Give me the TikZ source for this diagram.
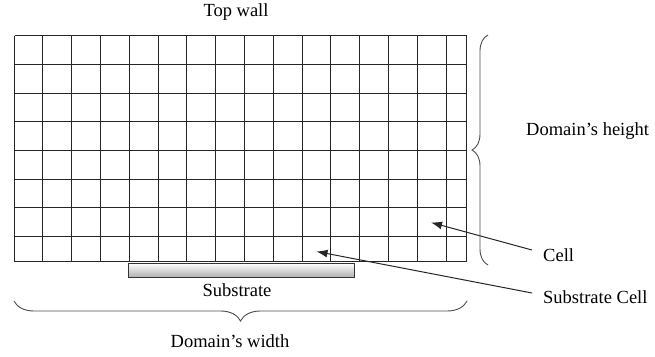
\documentclass[tikz,border=0pt]{standalone}
\usepackage{fontspec}
\setmainfont{Liberation Serif}
\usetikzlibrary{arrows.meta,decorations.pathreplacing}
\pgfdeclareverticalshading{subshade}{100bp}{
  color(0bp)=(black!45);
  color(35bp)=(black!25);
  color(75bp)=(white);
  color(90bp)=(black!15);
  color(100bp)=(black!60)}
\tikzset{
  lbl/.style={font=\fontsize{18.5}{22}\selectfont, inner sep=0pt},
  gridline/.style={draw=black!85, line width=1.2pt},
  bracel/.style={draw=black!70, line width=0.9pt, decorate, decoration={brace, raise=0pt}},
  pointer/.style={draw=black!85, line width=1pt, -{Latex[length=11pt,width=8pt]}},
}
\begin{document}
\begin{tikzpicture}[x=1pt,y=-1pt]
\useasboundingbox (0,0) rectangle (655,356);
% grid
\foreach \i in {0,...,15} {
  \pgfmathsetmacro{\xx}{int(14+28.8*\i)+0.5}
  \draw[gridline] (\xx,35.5) -- (\xx,261.5);
}
\draw[gridline] (466.5,35.5) -- (466.5,261.5);
\foreach \j in {0,...,7} {
  \pgfmathsetmacro{\yy}{int(35.7+28.7*\j)+0.5}
  \draw[gridline] (14.5,\yy) -- (466.5,\yy);
}
\draw[gridline] (14.5,261.5) -- (466.5,261.5);
% substrate
\node[draw=black!80, line width=0.9pt, shading=subshade, minimum width=226pt, minimum height=14pt, inner sep=0pt, anchor=north west] (sub) at (128,262.7) {};
% labels
\node[lbl] (top) at (236,12) {Top wall};
\node[lbl] (sublbl) at (237,290) {Substrate};
\node[lbl] (width) at (230,341) {Domain's width};
\node[lbl, anchor=west] (height) at (526,131) {Domain's height};
\node[lbl, anchor=west] (cell) at (543,255) {Cell};
\node[lbl, anchor=west] (subcell) at (543,297) {Substrate Cell};
% target points
\coordinate (celltip) at (431,222.5);
\coordinate (subtip) at (316.5,251.5);
\coordinate (cellstart) at (532,250);
\coordinate (substart) at (532,293);
\draw[pointer] (cellstart) -- (celltip);
\draw[pointer] (substart) -- (subtip);
% braces
\coordinate (bl) at (14,301);
\coordinate (br) at (467,301);
\draw[bracel, decoration={amplitude=20pt, mirror}] (bl) -- (br);
\coordinate (rt) at (488,35);
\coordinate (rb) at (488,265);
\draw[bracel, decoration={amplitude=16pt, mirror}] (rt) -- (rb);
\end{tikzpicture}
\end{document}
